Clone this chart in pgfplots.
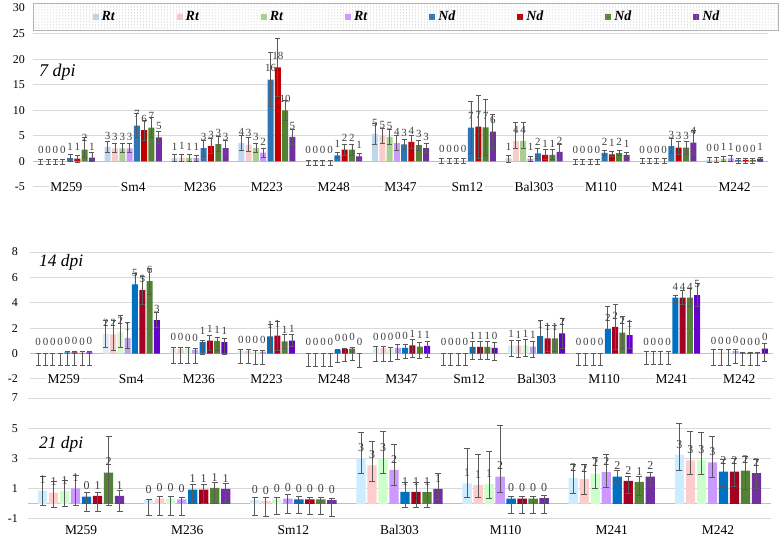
\documentclass[border=0pt]{standalone}
\usepackage{fontspec}
\setmainfont{Liberation Serif}
\usepackage{pgfplots}
\pgfplotsset{compat=1.18}
\usepackage{pgfplotstable}
\usetikzlibrary{patterns}

\definecolor{p1a}{HTML}{BDD7EE}\definecolor{p1b}{HTML}{FACBCB}\definecolor{p1c}{HTML}{A9D18E}\definecolor{p1d}{HTML}{CC99FF}
\definecolor{p1e}{HTML}{2E75B6}\definecolor{p1f}{HTML}{C00000}\definecolor{p1g}{HTML}{548235}\definecolor{p1h}{HTML}{7030A0}
\definecolor{p2a}{HTML}{DEEBF7}\definecolor{p2b}{HTML}{F8CBCB}\definecolor{p2c}{HTML}{D5F5CC}\definecolor{p2d}{HTML}{B9A3E3}
\definecolor{p2e}{HTML}{0070C0}\definecolor{p2f}{HTML}{A50021}\definecolor{p2g}{HTML}{548235}\definecolor{p2h}{HTML}{6600CC}
\definecolor{p3a}{HTML}{CCECFF}\definecolor{p3b}{HTML}{FFCCCC}\definecolor{p3c}{HTML}{CCFFCC}\definecolor{p3d}{HTML}{CC99FF}
\definecolor{p3e}{HTML}{0070C0}\definecolor{p3f}{HTML}{A50021}\definecolor{p3g}{HTML}{548235}\definecolor{p3h}{HTML}{7030A0}
\definecolor{errgray}{HTML}{595959}
\definecolor{labgray}{HTML}{404040}
\definecolor{gridgray}{HTML}{D9D9D9}
\definecolor{zerogray}{HTML}{C0C0C0}

% 7 dpi
\pgfplotstableread{
x a ap am b bp bm c cp cm d dp dm e ep em f fp fm g gp gm h hp hm
0 0 0.3 0.65 0 0.3 0.65 0 0.3 0.65 0 0.3 0.65 0.66 0.7 0.7 0.55 0.7 0.7 2.3 2.4 1.6 0.72 1.1 0.8
1 2.8 1.1 1.1 2.55 1.0 0.7 2.55 1.0 0.7 2.55 1.0 0.7 7.0 2.3 2.3 6.1 2.0 2.0 6.6 2.0 2.0 4.7 1.1 1.1
2 0.7 0.7 0.7 0.75 0.7 0.7 0.7 0.6 0.6 0.65 0.6 0.6 2.6 1.6 1.6 3.0 1.5 1.5 3.4 1.4 1.4 2.6 1.5 1.5
3 3.6 1.5 1.5 3.3 1.4 1.4 2.6 0.9 0.9 1.7 0.9 0.9 16.0 5.3 5.3 18.4 5.7 5.7 10.0 2.0 2.0 4.8 1.5 1.5
4 0 0.2 0.8 0 0.2 0.8 0 0.2 0.8 0 0.2 0.8 1.2 0.5 0.5 2.3 1.1 1.1 2.3 1.1 1.1 1.0 0.6 0.6
5 5.4 2.0 2.0 5.0 1.5 1.5 4.8 1.5 1.5 3.6 1.4 1.4 3.35 1.0 1.0 3.8 1.2 1.2 3.2 1.0 1.0 2.6 0.9 0.9
6 0.15 0.5 0.5 0.15 0.5 0.5 0.15 0.5 0.5 0.15 0.5 0.5 6.6 5.1 5.1 6.8 6.2 6.2 6.65 5.5 5.5 5.85 3.3 3.3
7 0.6 0.6 0.7 4.0 3.7 1.5 4.0 3.7 1.5 0.55 0.5 0.6 1.55 1.0 1.0 1.3 1.0 1.0 1.3 1.0 1.0 1.85 1.4 1.4
8 0 0.3 0.6 0 0.3 0.6 0 0.3 0.6 0 0.3 0.6 1.65 0.5 0.5 1.4 0.5 0.5 1.6 0.5 0.5 1.3 0.4 0.4
9 0 0.5 0.45 0 0.5 0.45 0 0.5 0.45 0 0.5 0.45 3.0 1.5 1.5 2.7 1.25 1.25 2.7 1.25 1.25 3.7 2.3 2.3
10 0.35 0.5 0.6 0.35 0.5 0.6 0.55 0.5 0.6 0.6 0.5 0.5 0.3 0.3 0.6 0.3 0.3 0.6 0.3 0.3 0.6 0.55 0.3 0.5
}\tA
% 14 dpi
\pgfplotstableread{
x a ap am b bp bm c cp cm d dp dm e ep em f fp fm g gp gm h hp hm
0 0 0 0.95 0 0 0.95 0 0 0.95 0 0 0.95 0.1 0.1 1.0 0.1 0.1 1.0 0.05 0.1 1.0 0.1 0.1 1.0
1 1.55 1.1 1.1 1.52 1.1 1.25 1.67 1.3 1.2 1.23 1.2 0.85 5.45 0.9 0.9 5.0 1.1 1.1 5.7 1.0 1.0 2.64 0.6 0.6
2 0.4 0.06 1.17 0.4 0.06 1.17 0.35 0.1 1.12 0.3 0.1 1.1 0.9 0.15 1.0 1.03 0.4 0.75 1.0 0.25 0.75 0.9 0.3 1.0
3 0.2 0.1 1.0 0.2 0.1 1.0 0.15 0.1 1.0 0.15 0.1 1.0 1.36 0.95 0.95 1.41 1.15 1.15 0.97 0.55 0.55 1.03 0.47 0.47
4 0 0 1.0 0 0 1.0 0 0 1.0 0 0 1.0 0.3 0.05 1.0 0.35 0.05 0.95 0.4 0.05 0.95 0 0 1.1
5 0.45 0.1 1.05 0.45 0.1 1.05 0.4 0.1 1.0 0.46 0.3 0.9 0.46 0.3 0.8 0.64 0.5 0.95 0.55 0.35 0.9 0.6 0.35 0.9
6 0 0 0.95 0 0 0.95 0 0 0.95 0 0 0.95 0.52 0.45 0.97 0.52 0.45 0.97 0.52 0.45 0.97 0.46 0.45 0.97
7 0.65 0.4 0.9 0.62 0.45 0.95 0.65 0.45 0.85 0.55 0.4 0.85 1.38 1.2 1.2 1.2 1.0 1.0 1.2 1.0 1.0 1.6 1.2 1.2
8 0 0 0.9 0 0 0.9 0 0 0.9 0 0 0.9 1.95 1.75 1.75 2.1 1.75 1.75 1.65 1.25 1.25 1.45 1.05 1.05
9 0.05 0.15 0.92 0.05 0.15 0.92 0.05 0.15 0.92 0.05 0.15 0.92 4.4 0.15 0.4 4.4 0.55 0.55 4.4 0.7 0.7 4.6 0.9 0.9
10 0.1 0.2 1.0 0.1 0.2 1.0 0.1 0.2 1.0 0.2 0.15 0.95 0.05 0.05 0.95 0.05 0.05 0.95 0.05 0.05 0.95 0.4 0.4 1.0
}\tB
% 21 dpi
\pgfplotstableread{
x a ap am b bp bm c cp cm d dp dm e ep em f fp fm g gp gm h hp hm
0 0.88 0.92 1.0 0.75 0.72 1.0 0.86 0.72 1.0 1.03 0.82 1.1 0.48 0.27 0.98 0.53 0.2 1.0 2.07 2.37 2.14 0.53 0.35 1.03
1 0.25 0.06 1.03 0.35 0.13 1.08 0.35 0.13 1.08 0.3 0.1 1.07 0.95 0.35 0.95 0.95 0.35 0.95 1.05 0.35 1.0 1.0 0.35 0.9
2 0.25 0.15 1.03 0.2 0.2 1.05 0.3 0.15 1.0 0.35 0.3 0.98 0.3 0.2 0.95 0.3 0.15 1.0 0.3 0.15 1.0 0.25 0.1 1.05
3 3.0 1.75 1.0 2.55 1.55 1.05 3.0 1.8 1.0 2.25 1.65 1.05 0.8 0.65 1.0 0.8 0.65 1.0 0.78 0.65 1.0 1.0 1.0 0.7
4 1.35 2.35 0.93 1.26 2.0 0.8 1.3 2.15 0.97 1.8 3.4 1.05 0.35 0.13 1.0 0.35 0.13 1.0 0.35 0.13 1.0 0.38 0.15 1.0
5 1.7 0.9 1.0 1.65 0.95 1.0 2.0 1.1 1.0 2.1 1.15 1.0 1.8 0.4 0.4 1.52 0.3 0.84 1.45 0.35 0.92 1.8 0.3 0.6
6 3.24 2.1 1.0 2.87 1.93 0.95 2.9 1.8 0.98 2.74 1.72 0.97 2.14 0.82 1.0 2.14 0.86 1.0 2.2 0.93 1.27 2.03 0.93 1.0
}\tC

\pgfplotsset{
  common/.style={
    scale only axis, anchor=south west, ybar, clip=false,
    /pgf/number format/assume math mode=true,
    axis line style={draw=none}, major tick length=0pt,
    ymajorgrids, grid style={draw=gridgray, line width=1bp},
    extra y ticks={0}, extra y tick labels={},
    extra y tick style={grid style={draw=zerogray, line width=1bp}},
    yticklabel={\pgfmathprintnumber[assume math mode=true]{\tick}},
    yticklabel style={anchor=east, inner sep=0pt, font=\fontsize{12}{12}\selectfont, text=black},
    xticklabel style={font=\fontsize{13.5}{13.5}\selectfont, text=black},
    nodes near coords={\pgfmathprintnumber[fixed,precision=0,assume math mode=true]{\pgfplotspointmeta}},
    nodes near coords style={font=\fontsize{11}{11}\selectfont, text=labgray, anchor=south, inner sep=0.5bp, yshift=7bp},
  },
  eb/.style={error bars/.cd, y dir=both, y explicit,
    error bar style={draw=errgray, line width=0.8bp},
    error mark options={rotate=90, draw=errgray, line width=0.8bp, mark size=#1}},
}

\newcommand\eightplots[2]{%
  \addplot+[eb=#2] table[x=x,y=a,y error plus=ap,y error minus=am]{#1};
  \addplot+[eb=#2] table[x=x,y=b,y error plus=bp,y error minus=bm]{#1};
  \addplot+[eb=#2] table[x=x,y=c,y error plus=cp,y error minus=cm]{#1};
  \addplot+[eb=#2] table[x=x,y=d,y error plus=dp,y error minus=dm]{#1};
  \addplot+[eb=#2] table[x=x,y=e,y error plus=ep,y error minus=em]{#1};
  \addplot+[eb=#2] table[x=x,y=f,y error plus=fp,y error minus=fm]{#1};
  \addplot+[eb=#2] table[x=x,y=g,y error plus=gp,y error minus=gm]{#1};
  \addplot+[eb=#2] table[x=x,y=h,y error plus=hp,y error minus=hm]{#1};
}

\begin{document}
\begin{tikzpicture}
\path[use as bounding box] (0,0) rectangle (784bp,539bp);

% ---------- 7 dpi ----------
\begin{axis}[common,
  at={(33bp,352bp)}, width=735bp, height=179bp,
  bar width=6bp, ybar=1.3bp,
  xmin=-0.5, xmax=10.5, ymin=-5, ymax=30,
  ytick={-5,0,5,10,15,20,25,30},
  yticklabel style={xshift=-8bp},
  xtick={0,...,10},
  xticklabels={M259,Sm4,M236,M223,M248,M347,Sm12,Bal303,M110,M241,M242},
  xticklabel style={anchor=center, fill=white, inner sep=1.5bp},
  cycle list={{fill=p1a,draw=none},{fill=p1b,draw=none},{fill=p1c,draw=none},{fill=p1d,draw=none},
              {fill=p1e,draw=none},{fill=p1f,draw=none},{fill=p1g,draw=none},{fill=p1h,draw=none}},
  legend image code/.code={\fill[#1] (0bp,-3bp) rectangle (6bp,3bp);},
  legend columns=8,
  legend style={at={(0.5,1)}, anchor=north, xshift=5.5bp, yshift=5bp,
    draw=gray!60, fill=white, postaction={pattern=dots, pattern color=gray!55},
    inner xsep=59bp, inner ysep=8bp,
    nodes={inner sep=0pt, font=\fontsize{14}{14}\selectfont\bfseries\itshape, text=black},
    /tikz/every odd column/.style={column sep=3bp},
    /tikz/every even column/.style={column sep=62bp}},
]
\eightplots{\tA}{2.5bp}
\legend{Rt,Rt,Rt,Rt,Nd,Nd,Nd,Nd}
\end{axis}

% ---------- 14 dpi ----------
\begin{axis}[common,
  at={(30bp,160bp)}, width=743bp, height=127bp,
  bar width=6bp, ybar=1.3bp,
  xmin=-0.5, xmax=10.5, ymin=-2, ymax=8,
  ytick={-2,0,2,4,6,8},
  yticklabel style={xshift=-12bp},
  xtick={0,...,10},
  xticklabels={M259,Sm4,M236,M223,M248,M347,Sm12,Bal303,M110,M241,M242},
  xticklabel style={anchor=center, fill=white, inner sep=1.5bp},
  cycle list={{fill=p2a,draw=none},{fill=p2b,draw=none},{fill=p2c,draw=none},{fill=p2d,draw=none},
              {fill=p2e,draw=none},{fill=p2f,draw=none},{fill=p2g,draw=none},{fill=p2h,draw=none}},
]
\eightplots{\tB}{2.5bp}
\end{axis}

% ---------- 21 dpi ----------
\begin{axis}[common,
  at={(28bp,20bp)}, width=743bp, height=121bp,
  bar width=9.3bp, ybar=1.7bp,
  xmin=-0.5, xmax=6.5, ymin=-1, ymax=7,
  ytick={-1,1,3,5,7},
  yticklabel style={xshift=-10bp},
  xtick={0,...,6},
  xticklabels={M259,M236,Sm12,Bal303,M110,M241,M242},
  xticklabel style={anchor=north, inner sep=0pt, yshift=-6bp},
  cycle list={{fill=p3a,draw=none},{fill=p3b,draw=none},{fill=p3c,draw=none},{fill=p3d,draw=none},
              {fill=p3e,draw=none},{fill=p3f,draw=none},{fill=p3g,draw=none},{fill=p3h,draw=none}},
  nodes near coords style={font=\fontsize{12}{12}\selectfont, yshift=-1bp},
]
\eightplots{\tC}{3bp}
\end{axis}

\node[anchor=west, font=\fontsize{18}{18}\selectfont\itshape, inner sep=0pt] at (39bp,467bp) {7 dpi};
\node[anchor=west, font=\fontsize{17.5}{17.5}\selectfont\itshape, inner sep=0pt] at (39bp,277bp) {14 dpi};
\node[anchor=west, font=\fontsize{17.5}{17.5}\selectfont\itshape, inner sep=0pt] at (39bp,95bp) {21 dpi};
\end{tikzpicture}
\end{document}
